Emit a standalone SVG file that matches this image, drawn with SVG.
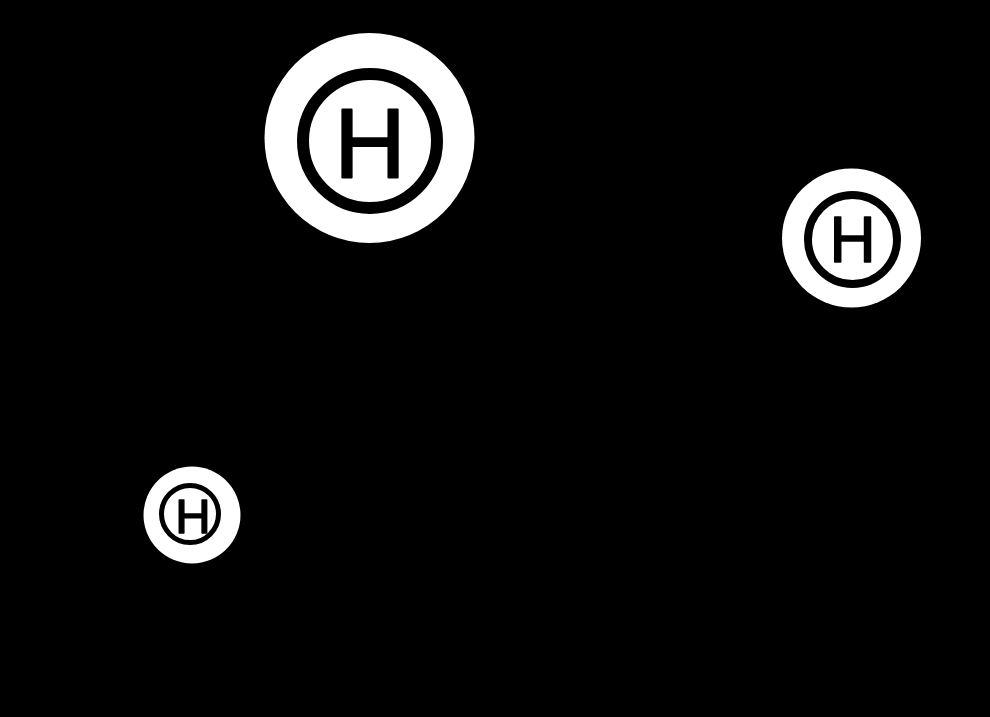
<svg xmlns="http://www.w3.org/2000/svg" width="990" height="717" viewBox="0 0 990 717">
<style>
.disc{fill:#fff}
.ring{fill:none;stroke:#000}
.lbl{font-family:"Liberation Sans",Arial,sans-serif;fill:#000;text-anchor:middle;stroke:#000;stroke-linejoin:round}
</style>
<rect width="990" height="717" fill="#000"/>
<g id="atom-large">
<circle class="disc" cx="369.5" cy="138" r="105"/>
<circle class="ring" cx="370" cy="141" r="67" stroke-width="12"/>
<text class="lbl" x="370" y="177" font-size="99" stroke-width="2">H</text>
</g>
<g id="atom-right">
<circle class="disc" cx="851.5" cy="238" r="69.5"/>
<circle class="ring" cx="852.5" cy="239.5" r="44.5" stroke-width="8"/>
<text class="lbl" x="852.5" y="262" font-size="64" stroke-width="1.5">H</text>
</g>
<g id="atom-small">
<circle class="disc" cx="192" cy="515" r="48.5"/>
<circle class="ring" cx="190" cy="514" r="28.5" stroke-width="5"/>
<text class="lbl" x="193" y="533" font-size="49" stroke-width="1.5">H</text>
</g>
<g id="connectors"/>
</svg>
